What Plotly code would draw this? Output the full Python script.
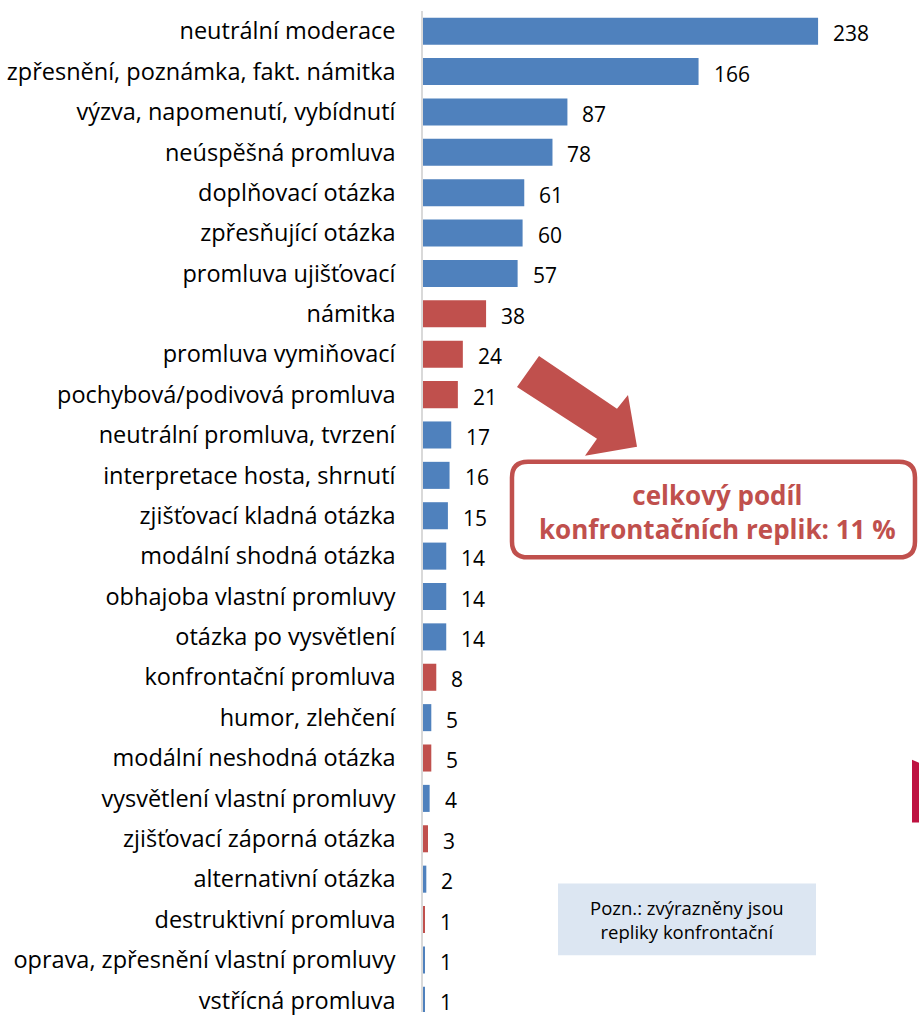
import plotly.graph_objects as go

categories = [
    "neutrální moderace",
    "zpřesnění, poznámka, fakt. námitka",
    "výzva, napomenutí, vybídnutí",
    "neúspěšná promluva",
    "doplňovací otázka",
    "zpřesňující otázka",
    "promluva ujišťovací",
    "námitka",
    "promluva vymiňovací",
    "pochybová/podivová promluva",
    "neutrální promluva, tvrzení",
    "interpretace hosta, shrnutí",
    "zjišťovací kladná otázka",
    "modální shodná otázka",
    "obhajoba vlastní promluvy",
    "otázka po vysvětlení",
    "konfrontační promluva",
    "humor, zlehčení",
    "modální neshodná otázka",
    "vysvětlení vlastní promluvy",
    "zjišťovací záporná otázka",
    "alternativní otázka",
    "destruktivní promluva",
    "oprava, zpřesnění vlastní promluvy",
    "vstřícná promluva",
]
values = [238, 166, 87, 78, 61, 60, 57, 38, 24, 21, 17, 16, 15, 14, 14, 14, 8, 5, 5, 4, 3, 2, 1, 1, 1]
confrontational = [False, False, False, False, False, False, False, True, True, True,
                   False, False, False, False, False, False, True, False, True, False,
                   True, False, True, False, False]

BLUE = "#4F81BD"
RED = "#C0504D"
colors = [RED if c else BLUE for c in confrontational]

W, H = 919, 1015
PL, PT, PR, PB = 423, 11, 919, 1015   # plot area in page pixels
L, T, R, B = PL, PT, W - PR, H - PB
FONT = "'Open Sans', sans-serif"

fig = go.Figure()
fig.add_trace(go.Bar(
    y=categories, x=values, orientation="h",
    marker=dict(color=colors, line=dict(width=0)),
    hoverinfo="x+y",
))

for cat, v in zip(categories, values):
    fig.add_annotation(x=v, y=cat, text=str(v), showarrow=False,
                       xanchor="left", xshift=13, yshift=-2,
                       font=dict(family=FONT, size=21, color="#000000"))

pw, ph = PR - PL, PB - PT
def px(x):
    return (x - PL) / pw
def py(y):
    return (PB - y) / ph

# block arrow
pts = [(539, 357), (617, 410), (628, 396), (637, 448), (585, 457), (597, 440), (517, 388)]
path = "M " + " L ".join(f"{px(x):.4f},{py(y):.4f}" for x, y in pts) + " Z"
fig.add_shape(type="path", path=path, xref="paper", yref="paper",
              fillcolor=RED, line=dict(width=0), layer="above")

# rounded box
x0, x1, y0, y1, r = 512, 915, 463, 559, 16
rp = (f"M {px(x0+r):.4f},{py(y0):.4f} L {px(x1-r):.4f},{py(y0):.4f} "
      f"Q {px(x1):.4f},{py(y0):.4f} {px(x1):.4f},{py(y0+r):.4f} "
      f"L {px(x1):.4f},{py(y1-r):.4f} "
      f"Q {px(x1):.4f},{py(y1):.4f} {px(x1-r):.4f},{py(y1):.4f} "
      f"L {px(x0+r):.4f},{py(y1):.4f} "
      f"Q {px(x0):.4f},{py(y1):.4f} {px(x0):.4f},{py(y1-r):.4f} "
      f"L {px(x0):.4f},{py(y0+r):.4f} "
      f"Q {px(x0):.4f},{py(y0):.4f} {px(x0+r):.4f},{py(y0):.4f} Z")
fig.add_shape(type="path", path=rp, xref="paper", yref="paper",
              fillcolor="white", line=dict(color=RED, width=4.5), layer="above")
fig.add_annotation(xref="paper", yref="paper", x=px(717), y=py(514),
                   text="<b>celkový podíl<br>konfrontačních replik: 11 %</b>",
                   showarrow=False, xanchor="center", yanchor="middle",
                   font=dict(family=FONT, size=26, color=RED), align="center")

# note box
fig.add_shape(type="rect", xref="paper", yref="paper",
              x0=px(558), x1=px(816), y0=py(958), y1=py(886),
              fillcolor="#DCE6F2", line=dict(width=0), layer="above")
fig.add_annotation(xref="paper", yref="paper", x=px(687), y=py(922),
                   text="Pozn.: zvýrazněny jsou<br>repliky konfrontační",
                   showarrow=False, xanchor="center", yanchor="middle",
                   font=dict(family=FONT, size=18.5, color="#000000"), align="center")

# partial red shape at the right edge
fig.add_shape(type="path", xref="paper", yref="paper",
              path=(f"M {px(912):.4f},{py(762):.4f} L {px(919):.4f},{py(765):.4f} "
                    f"L {px(919):.4f},{py(825):.4f} L {px(912):.4f},{py(825):.4f} Z"),
              fillcolor="#BE1241", line=dict(width=0), layer="above")

fig.update_layout(
    width=W, height=H,
    margin=dict(l=L, r=R, t=T, b=B, pad=0),
    paper_bgcolor="white", plot_bgcolor="white",
    showlegend=False, bargap=0.33,
    font=dict(family=FONT, color="#000000"),
    xaxis=dict(range=[0, pw / 1.66], visible=False, showgrid=False, zeroline=False),
    yaxis=dict(type="category", range=[24.29, -0.5], showgrid=False, zeroline=False,
               showline=True, linecolor="#D9D9D9", linewidth=1.5,
               ticks="", ticklabelstandoff=21,
               tickfont=dict(family=FONT, size=23.5, color="#000000")),
)

fig.write_html("out.html", config={"displayModeBar": False},
               post_script="document.body.style.margin='0';document.body.style.overflow='hidden';")
